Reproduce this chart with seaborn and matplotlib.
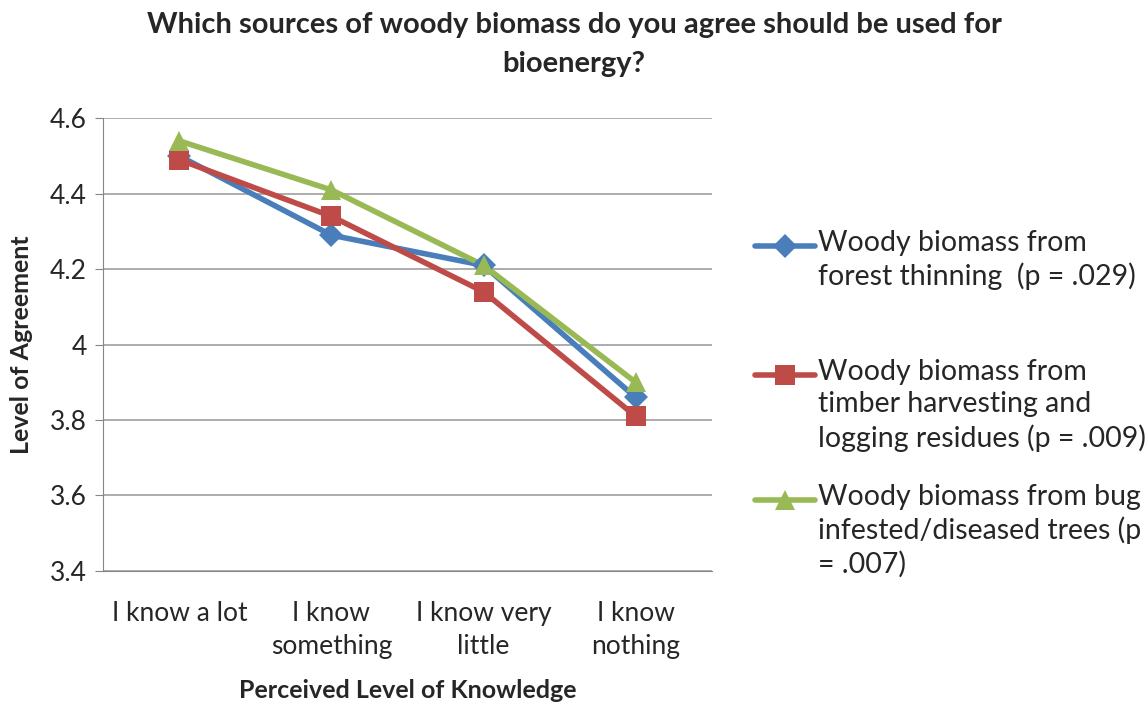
import pandas as pd
import numpy as np
import matplotlib.pyplot as plt
import seaborn as sns
from matplotlib.lines import Line2D

# data
knowledge = ["I know a lot", "I know\nsomething", "I know very\nlittle", "I know\nnothing"]
forest_thinning = [4.50, 4.29, 4.21, 3.86]
timber_residues = [4.49, 4.34, 4.14, 3.81]
bug_infested = [4.54, 4.41, 4.21, 3.90]
series_names = [
    "Woody biomass from\nforest thinning  (p = .029)",
    "Woody biomass from\ntimber harvesting and\nlogging residues (p = .009)",
    "Woody biomass from bug\ninfested/diseased trees (p\n= .007)",
]
colors = ["#4a7ebb", "#be4b48", "#98b954"]
markers = ["D", "s", "^"]
marker_sizes = [12, 14, 15]

rows = []
for name, vals in zip(series_names, [forest_thinning, timber_residues, bug_infested]):
    for i, v in enumerate(vals):
        rows.append({"pos": i + 0.5, "value": v, "series": name})
df = pd.DataFrame(rows)

sns.set_style("white")
plt.rcParams["font.family"] = ["Lato", "DejaVu Sans"]

fig = plt.figure(figsize=(11.48, 7.04), dpi=100)
ax = fig.add_axes([0.09, 0.189, 0.53, 0.643])

# lines first, then markers per series so each gets its own size
sns.lineplot(
    data=df, x="pos", y="value", hue="series",
    palette=colors, linewidth=4, ax=ax, legend=False
)
for name, c, m, ms in zip(series_names, colors, markers, marker_sizes):
    sub = df[df["series"] == name]
    ax.plot(sub["pos"], sub["value"], linestyle="none", marker=m,
            markersize=ms, color=c, markeredgewidth=0)

ax.set_xlim(0, 4)
ax.set_ylim(3.4, 4.6)
ax.set_yticks(np.arange(3.4, 4.61, 0.2))
ax.set_yticklabels(["3.4", "3.6", "3.8", "4", "4.2", "4.4", "4.6"], fontsize=19)
ax.set_xticks([0.5, 1.5, 2.5, 3.5])
ax.set_xticklabels(knowledge, fontsize=19, linespacing=1.4)
ax.set_xticks([0, 1, 2, 3, 4], minor=True)
ax.tick_params(axis="x", which="major", length=0, pad=22)
ax.tick_params(axis="x", which="minor", length=6, color="#868686", direction="out")
ax.tick_params(axis="y", length=6, color="#868686", direction="out", left=True, pad=6)

ax.grid(axis="y", color="#a6a6a6", linewidth=1.3)
ax.set_axisbelow(True)
for s in ["top", "right"]:
    ax.spines[s].set_visible(False)
ax.spines["left"].set_color("#868686")
ax.spines["bottom"].set_color("#868686")

ax.set_xlabel("Perceived Level of Knowledge", fontsize=18, fontweight="bold", labelpad=14)
ax.set_ylabel("Level of Agreement", fontsize=18, fontweight="bold", labelpad=12)

fig.suptitle("Which sources of woody biomass do you agree should be used for\nbioenergy?",
             fontsize=21, fontweight="bold", x=0.5, y=0.983, linespacing=1.6)

# legend: handle sits on the first line of each wrapped label
legend_tops = [246, 375, 500]
for name, c, m, ms, ytop in zip(series_names, colors, markers, marker_sizes, legend_tops):
    yf = 1 - ytop / 704
    fig.add_artist(Line2D([755 / 1148, 815 / 1148], [yf, yf], transform=fig.transFigure,
                          color=c, linewidth=4))
    fig.add_artist(Line2D([785 / 1148], [yf], transform=fig.transFigure, color=c,
                          marker=m, markersize=ms, markeredgewidth=0, linestyle="none"))
    fig.text(818 / 1148, 1 - (ytop - 16) / 704, name, fontsize=20.5, ha="left", va="top",
             linespacing=1.3, transform=fig.transFigure)

plt.savefig("out.png", dpi=100)
